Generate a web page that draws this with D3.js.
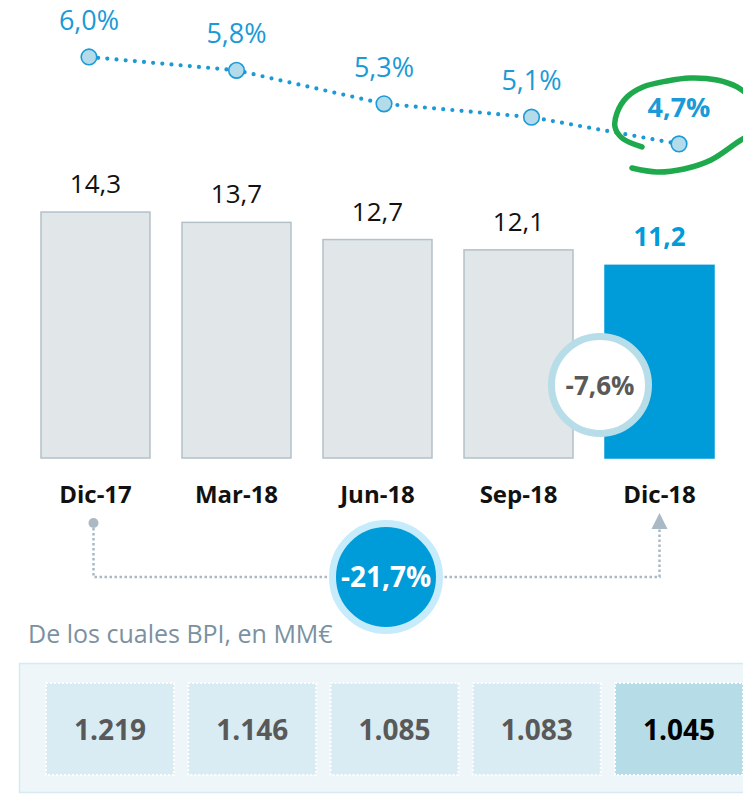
<!DOCTYPE html>
<html>
<head>
<meta charset="utf-8">
<script src="https://cdn.jsdelivr.net/npm/d3@7"></script>
<style>
  html, body { margin: 0; padding: 0; background: #ffffff; }
  svg { display: block; font-family: "Open Sans", "DejaVu Sans", sans-serif; }
</style>
</head>
<body>
<svg id="chart" width="743" height="795"></svg>
<script>
// Quarterly periods
const categories = ["Dic-17", "Mar-18", "Jun-18", "Sep-18", "Dic-18"];
// Balance per quarter (bars)
const balance = [14.3, 13.7, 12.7, 12.1, 11.2];
// Ratio per quarter, in % (dotted line)
const ratio = [6.0, 5.8, 5.3, 5.1, 4.7];
// Of which BPI, in MM€ (bottom boxes)
const bpi = [1219, 1146, 1085, 1083, 1045];
// Change callouts, in %
const changeQuarter = -7.6;
const changeYear = -21.7;
const subtitle = "De los cuales BPI, en MM€";

const es = d3.formatLocale({ decimal: ",", thousands: ".", grouping: [3], currency: ["", "€"], minus: "-" });
const fmt1 = es.format(".1f");
const fmtThousands = es.format(",");
const fmtPct = v => fmt1(v) + "%";

const BLUE = "#009bd9";
const LINE_BLUE = "#1a9ad6";
const last = categories.length - 1;

const svg = d3.select("#chart");

// ---- Scales ----
const x = d3.scaleBand().domain(categories).range([41, 714]).paddingInner(0.227);
const y = d3.scaleLinear().domain([0, 15]).range([458, 200]);
const xLine = d3.scalePoint().domain(categories).range([89, 679]);
const yLine = d3.scaleLinear().domain([4, 6.5]).range([190.8, 23.5]);
const xBox = d3.scaleBand().domain(categories).range([46, 743]).paddingInner(0.1);

// ---- Bars ----
svg.append("g").selectAll("rect")
  .data(categories)
  .join("rect")
  .attr("x", d => x(d))
  .attr("y", (d, i) => y(balance[i]))
  .attr("width", x.bandwidth())
  .attr("height", (d, i) => y(0) - y(balance[i]))
  .attr("fill", (d, i) => i === last ? BLUE : "#e1e6e9")
  .attr("stroke", (d, i) => i === last ? BLUE : "#b3c1c9")
  .attr("stroke-width", 1.5);

// Bar value labels
svg.append("g").selectAll("text")
  .data(categories)
  .join("text")
  .attr("x", d => x(d) + x.bandwidth() / 2)
  .attr("y", (d, i) => y(balance[i]) - 19)
  .attr("text-anchor", "middle")
  .attr("font-size", 26)
  .attr("font-weight", (d, i) => i === last ? 700 : 400)
  .attr("fill", (d, i) => i === last ? BLUE : "#111111")
  .text((d, i) => fmt1(balance[i]));

// Category axis labels
const xAxis = d3.axisBottom(x).tickSize(0).tickPadding(0);
const axisG = svg.append("g").attr("transform", `translate(0, 485)`).call(xAxis);
axisG.select(".domain").remove();
axisG.selectAll("text")
  .attr("font-family", "Open Sans, sans-serif")
  .attr("font-size", 24)
  .attr("font-weight", 700)
  .attr("fill", "#111111")
  .attr("dy", 0)
  .attr("y", 18);

// ---- Dotted ratio line ----
const lineGen = d3.line()
  .x((d, i) => xLine(categories[i]))
  .y(d => yLine(d));

svg.append("path")
  .datum(ratio)
  .attr("d", lineGen)
  .attr("fill", "none")
  .attr("stroke", LINE_BLUE)
  .attr("stroke-width", 4.2)
  .attr("stroke-linecap", "round")
  .attr("stroke-dasharray", "0 9.2");

// Hand-drawn highlight around the latest ratio (offsets from its point)
const highlightStroke = [
  [-37, 3], [-57, -6], [-64, -17], [-62, -31], [-52, -47], [-36, -57],
  [-12, -63], [11, -66], [38, -64], [58, -57], [73, -44], [78, -29],
  [72, -12], [56, 0], [32, 16], [5, 25], [-22, 28], [-47, 24]
];
const hx = xLine(categories[last]);
const hy = yLine(ratio[last]);
svg.append("path")
  .datum(highlightStroke)
  .attr("d", d3.line().x(d => hx + d[0]).y(d => hy + d[1]).curve(d3.curveCatmullRom))
  .attr("fill", "none")
  .attr("stroke", "#1eaa4c")
  .attr("stroke-width", 5.5)
  .attr("stroke-linecap", "round");

svg.append("g").selectAll("circle")
  .data(ratio)
  .join("circle")
  .attr("cx", (d, i) => xLine(categories[i]))
  .attr("cy", d => yLine(d))
  .attr("r", 7.8)
  .attr("fill", "#b4dbea")
  .attr("stroke", LINE_BLUE)
  .attr("stroke-width", 1.6);

svg.append("g").selectAll("text")
  .data(ratio)
  .join("text")
  .attr("x", (d, i) => xLine(categories[i]))
  .attr("y", d => yLine(d) - 27)
  .attr("text-anchor", "middle")
  .attr("font-size", 27)
  .attr("font-weight", (d, i) => i === last ? 700 : 400)
  .attr("fill", LINE_BLUE)
  .text(d => fmtPct(d));

// ---- Quarter-on-quarter change badge ----
const qBadge = svg.append("g").attr("transform", "translate(600, 385)");
qBadge.append("circle").attr("r", 48.5).attr("fill", "#ffffff")
  .attr("stroke", "#b7dde9").attr("stroke-width", 7);
qBadge.append("text").attr("y", 9.5).attr("text-anchor", "middle")
  .attr("font-size", 26).attr("font-weight", 700).attr("fill", "#595959")
  .text(fmtPct(changeQuarter));

// ---- Year-on-year connector ----
const x0 = x(categories[0]) + x.bandwidth() / 2 - 2;
const x1 = x(categories[last]) + x.bandwidth() / 2;
const connY = 577;
svg.append("path")
  .attr("d", `M${x0},523 V${connY} H${x1} V528`)
  .attr("fill", "none")
  .attr("stroke", "#aab9c3")
  .attr("stroke-width", 2.5)
  .attr("stroke-dasharray", "2.5 2.5");
svg.append("circle").attr("cx", x0).attr("cy", 523).attr("r", 5).attr("fill", "#aab9c3");
svg.append("path")
  .attr("d", `M${x1},513 L${x1 + 8},529 L${x1 - 8},529 Z`)
  .attr("fill", "#aab9c3");

const yBadge = svg.append("g").attr("transform", `translate(386, ${connY})`);
yBadge.append("circle").attr("r", 53.5).attr("fill", BLUE)
  .attr("stroke", "#c6ebfb").attr("stroke-width", 7);
yBadge.append("text").attr("y", 9.5).attr("text-anchor", "middle")
  .attr("font-size", 28).attr("font-weight", 700).attr("fill", "#ffffff")
  .text(fmtPct(changeYear));

// ---- BPI breakdown ----
svg.append("text")
  .attr("x", 28).attr("y", 643)
  .attr("font-size", 25)
  .attr("fill", "#7b91a1")
  .text(subtitle);

svg.append("rect")
  .attr("x", 19.5).attr("y", 663.5)
  .attr("width", 740).attr("height", 129)
  .attr("fill", "#eef6f9")
  .attr("stroke", "#d5eaf2")
  .attr("stroke-width", 1.5);

svg.append("g").selectAll("rect")
  .data(categories)
  .join("rect")
  .attr("x", d => xBox(d))
  .attr("y", 683)
  .attr("width", xBox.bandwidth())
  .attr("height", 92)
  .attr("fill", (d, i) => i === last ? "#b6dce8" : "#d9ecf3")
  .attr("stroke", "#ffffff")
  .attr("stroke-width", 2)
  .attr("stroke-dasharray", "2 2");

svg.append("g").selectAll("text")
  .data(categories)
  .join("text")
  .attr("x", d => xBox(d) + xBox.bandwidth() / 2)
  .attr("y", 740)
  .attr("text-anchor", "middle")
  .attr("font-size", 28)
  .attr("font-weight", 700)
  .attr("fill", (d, i) => i === last ? "#000000" : "#595959")
  .text((d, i) => fmtThousands(bpi[i]));
</script>
</body>
</html>
